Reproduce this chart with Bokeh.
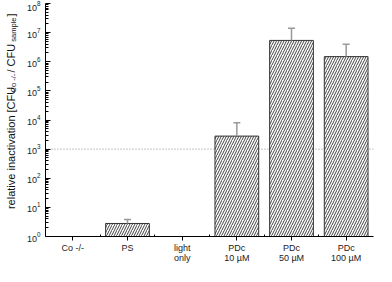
import math
from bokeh.plotting import figure
from bokeh.layouts import row
from bokeh.models import (Range1d, FixedTicker, Span, Whisker, TeeHead,
                          ColumnDataSource, LogTickFormatter)
from bokeh.core.properties import value
from bokeh.embed import file_html
from bokeh.resources import INLINE

# ---- data ----
categories = ["Co -/-", "PS", "light\nonly", "PDc\n10 µM", "PDc\n50 µM", "PDc\n100 µM"]
inactivation = [1.0, 2.8, 1.0, 2.8e3, 5.4e6, 1.5e6]
error_upper = [0.0, 1.0, 0.0, 5.2e3, 8.6e6, 2.5e6]
threshold = 1e3
y_exponents = list(range(0, 9))
y_title = [("relative inactivation [CFU", "main"), ("Co -/-", "sub"),
           (" / CFU", "main"), ("sample", "sub"), (" ]", "main")]

FONT = "Liberation Sans"
H = 266
LAB_W = 22
MAIN_W = 376 - LAB_W

xs = [i + 0.5 for i in range(len(categories))]
shown = [i for i, v in enumerate(inactivation) if v > 1]
src = ColumnDataSource(dict(
    x=[xs[i] for i in shown],
    top=[inactivation[i] for i in shown],
    upper=[inactivation[i] + error_upper[i] for i in shown],
))

p = figure(width=MAIN_W, height=H, output_backend="svg", toolbar_location=None,
           y_axis_type="log",
           x_range=Range1d(0, len(categories)),
           y_range=Range1d(10 ** y_exponents[0], 10 ** y_exponents[-1]),
           min_border_left=23, min_border_right=3, min_border_top=3,
           min_border_bottom=0)
p.outline_line_color = None
p.grid.visible = False
p.background_fill_color = "white"

span = Span(location=threshold, dimension="width", line_color="#888888",
            line_dash="1 2", line_width=1, level="underlay")
p.add_layout(span)

p.vbar(x="x", top="top", bottom=1, width=0.8, source=src,
       fill_color="white", line_color="#333333", line_width=1,
       hatch_pattern="/", hatch_color="#444444", hatch_scale=5,
       hatch_weight=1)

wh = Whisker(base="x", lower="top", upper="upper", source=src,
             dimension="height", line_color="#999999", line_width=1.5,
             upper_head=TeeHead(size=7, line_color="#999999", line_width=1.5),
             lower_head=None, level="glyph")
p.add_layout(wh)

# x axis
xa = p.xaxis[0]
xa.ticker = FixedTicker(ticks=xs, minor_ticks=list(range(1, len(categories))))
xa.major_label_overrides = {x: c for x, c in zip(xs, categories)}
xa.major_tick_in = 0
xa.major_tick_out = 4
xa.minor_tick_in = 2
xa.minor_tick_out = 0
xa.major_label_standoff = 2
xa.axis_label_standoff = 0
xa.major_label_text_font = FONT
xa.major_label_text_font_size = "9px"
xa.major_label_text_line_height = 1.05
xa.major_label_text_color = "#222222"
xa.axis_line_color = "black"

# y axis
ya = p.yaxis[0]
ya.ticker = FixedTicker(ticks=[10 ** k for k in y_exponents],
                        minor_ticks=[m * 10 ** k for k in y_exponents[:-1] for m in range(2, 10)])
ya.formatter = LogTickFormatter()
ya.major_tick_in = 5
ya.major_tick_out = 0
ya.minor_tick_in = 3
ya.minor_tick_out = 0
ya.major_label_standoff = 5
ya.major_label_text_font = FONT
ya.major_label_text_font_size = "9px"
ya.major_label_text_color = "#222222"
ya.axis_line_color = "black"

# ---- y axis title (with subscripts) in a narrow side figure in pixel units ----
q = figure(width=LAB_W, height=H, output_backend="svg", toolbar_location=None,
           x_range=Range1d(0, LAB_W), y_range=Range1d(0, H),
           min_border=0)
q.axis.visible = False
q.grid.visible = False
q.outline_line_color = None

WIDTHS = {" ": 278, "r": 333, "e": 556, "l": 222, "a": 556, "t": 278, "i": 222,
          "v": 500, "n": 556, "c": 500, "o": 556, "[": 278, "]": 278, "C": 722,
          "F": 611, "U": 722, "/": 278, "-": 333, "s": 500, "m": 833, "p": 556}
SIZES = {"main": 11, "sub": 7.5}
SHIFT = {"main": 0, "sub": 3}
GAP = {"main": 1.0, "sub": 2.5}


def tw(s, size):
    return sum(WIDTHS.get(ch, 556) for ch in s) / 1000 * size * 1.08


total = sum(tw(s, SIZES[k]) + GAP[k] for s, k in y_title)
center = 145
pos = center - total / 2
for s, k in y_title:
    q.text(x=[10 + SHIFT[k]], y=[pos], text=[s], angle=math.pi / 2,
           text_font=value(FONT), text_font_size=f"{SIZES[k]}px",
           text_color="#111111", text_align="left",
           text_baseline="alphabetic")
    pos += tw(s, SIZES[k]) + GAP[k]

layout = row(q, p, spacing=0)
open("out.html", "w").write(file_html(layout, INLINE))
